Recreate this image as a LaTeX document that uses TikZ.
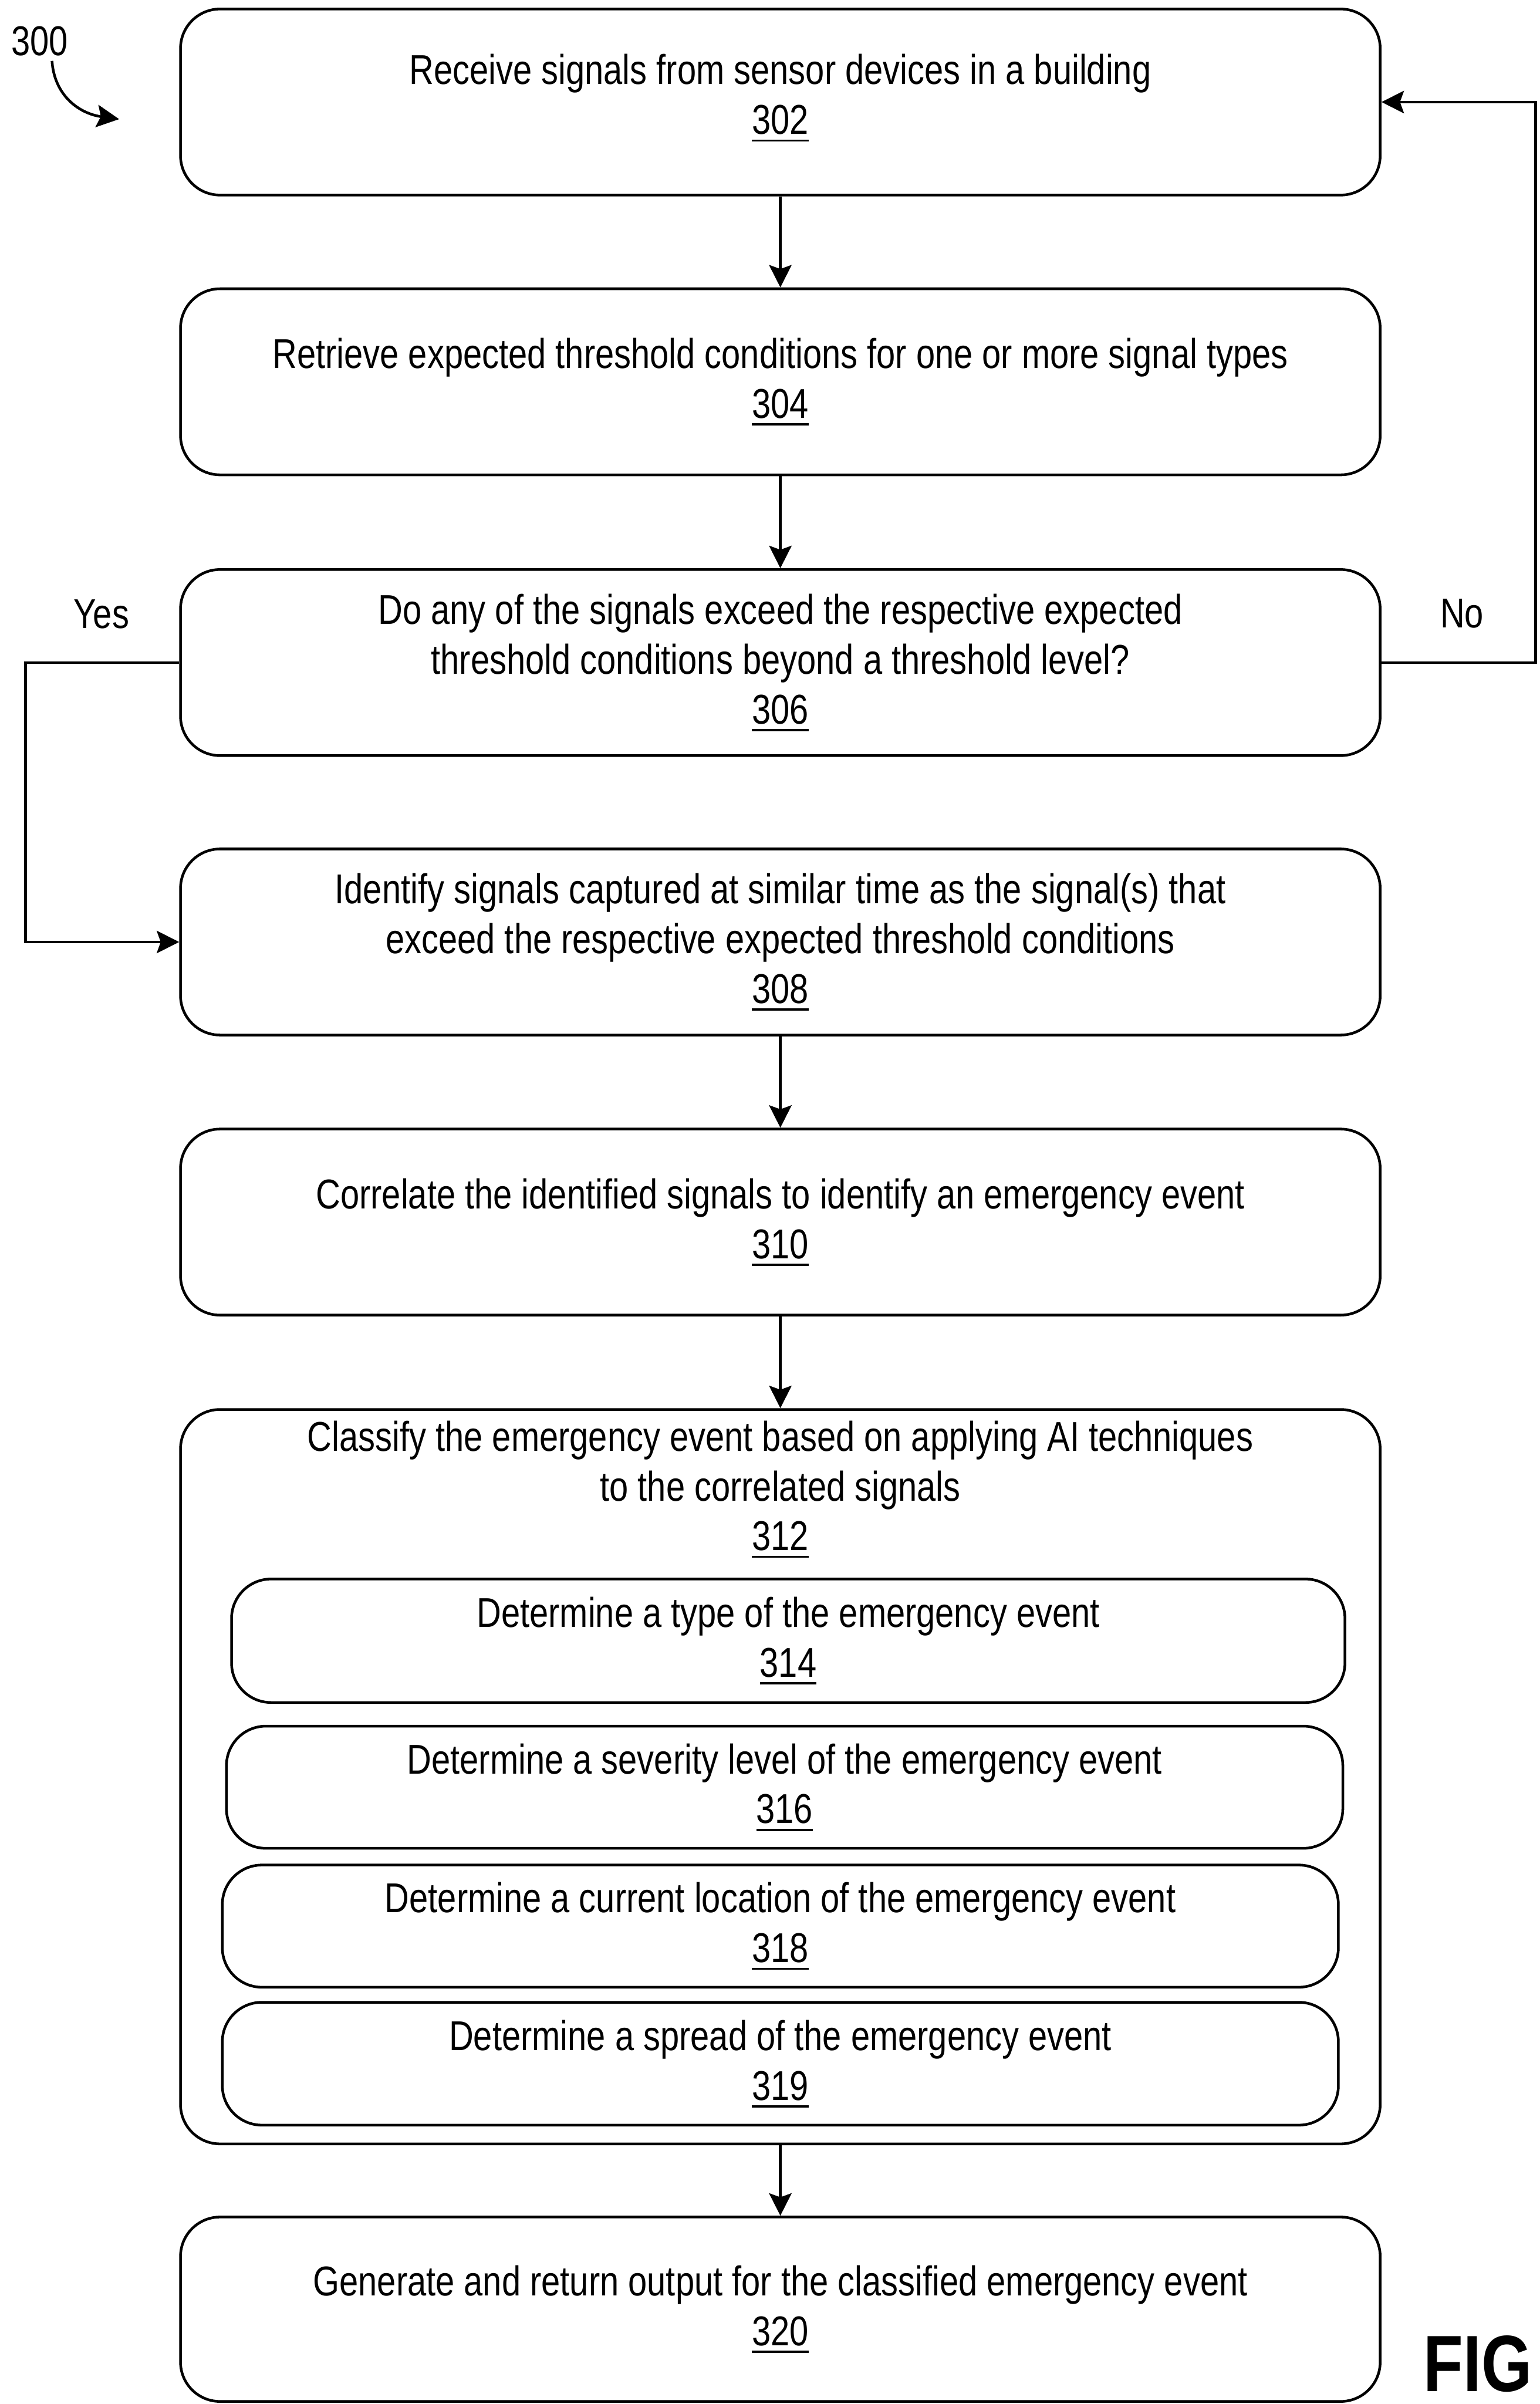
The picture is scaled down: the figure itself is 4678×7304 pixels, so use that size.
\documentclass[tikz,border=0pt]{standalone}
\usepackage{fontspec}
\setmainfont{Liberation Sans}[FakeStretch=0.815]
\usetikzlibrary{arrows.meta}
% underlined reference numeral with a heavier rule
\newcommand{\refnum}[1]{\leavevmode\setbox0=\hbox{#1}\rlap{\vrule height -4.6pt depth 6.4pt width \wd0}\box0}
\begin{document}
\begin{tikzpicture}[x=0.01cm, y=-0.01cm,
  every node/.style={font=\fontsize{36pt}{43pt}\selectfont, inner sep=0pt},
  stepbox/.style={draw, line width=2.3pt, rounded corners=1.2cm, minimum width=36.43cm, minimum height=5.65cm, align=center},
  subbox/.style={draw, line width=2.3pt, rounded corners=1.2cm, minimum width=33.89cm, minimum height=3.73cm, align=center},
  arr/.style={line width=2.3pt, -{Stealth[length=0.68cm, width=0.68cm, inset=0.12cm]}},
  figlabel/.style={font=\fontsize{69pt}{78pt}\selectfont\bfseries}
]
\useasboundingbox (0,0) rectangle (4678,7304);

% flow label and pointer
\node (l300) at (120,125) {300};
\coordinate (p300s) at (158,185);
\coordinate (p300e) at (362,362);
\draw[arr] (p300s) .. controls (165,290) and (240,345) .. (p300e);

% main steps
\node[stepbox, text depth=0.47cm] (b302) at (2371,310) {Receive signals from sensor devices in a building\\\refnum{302}};
\node[stepbox] (b304) at (2371,1160) {Retrieve expected threshold conditions for one or more signal types\\\refnum{304}};
\node[stepbox] (b306) at (2371,2013) {Do any of the signals exceed the respective expected\\threshold conditions beyond a threshold level?\\\refnum{306}};
\node[stepbox] (b308) at (2371,2862) {Identify signals captured at similar time as the signal(s) that\\exceed the respective expected threshold conditions\\\refnum{308}};
\node[stepbox] (b310) at (2371,3713) {Correlate the identified signals to identify an emergency event\\\refnum{310}};

% classification step with its sub-steps
\node[stepbox, minimum height=22.30cm] (b312) at (2371,5398) {};
\node[align=center] (t312) at (2371,4525) {Classify the emergency event based on applying AI techniques\\to the correlated signals\\\refnum{312}};
\node[subbox, minimum width=33.81cm, minimum height=3.75cm] (b314) at (2395,4985) {Determine a type of the emergency event\\\refnum{314}};
\node[subbox, minimum width=33.90cm, minimum height=3.71cm] (b316) at (2384,5430) {Determine a severity level of the emergency event\\\refnum{316}};
\node[subbox, minimum height=3.71cm] (b318) at (2371,5852) {Determine a current location of the emergency event\\\refnum{318}};
\node[subbox, minimum height=3.73cm] (b319) at (2371,6270) {Determine a spread of the emergency event\\\refnum{319}};

\node[stepbox, minimum height=5.60cm] (b320) at (2371,7016) {Generate and return output for the classified emergency event\\\refnum{320}};

% connectors
\draw[arr] (b302) -- (b304);
\draw[arr] (b304) -- (b306);
\draw[arr] (b308) -- (b310);
\draw[arr] (b310) -- (b312);
\draw[arr] (b312) -- (b320);

\coordinate (nocorner) at (4666,2013);
\draw[arr] (b306.east) -- (nocorner) |- (b302.east);
\node (lno) at (4442,1865) {No};

\coordinate (yescorner) at (78,2013);
\draw[arr] (b306.west) -- (yescorner) |- (b308.west);
\node (lyes) at (308,1866) {Yes};

\node[figlabel, anchor=base west] (fig) at (4325,7265) {FIG};
\end{tikzpicture}
\end{document}
